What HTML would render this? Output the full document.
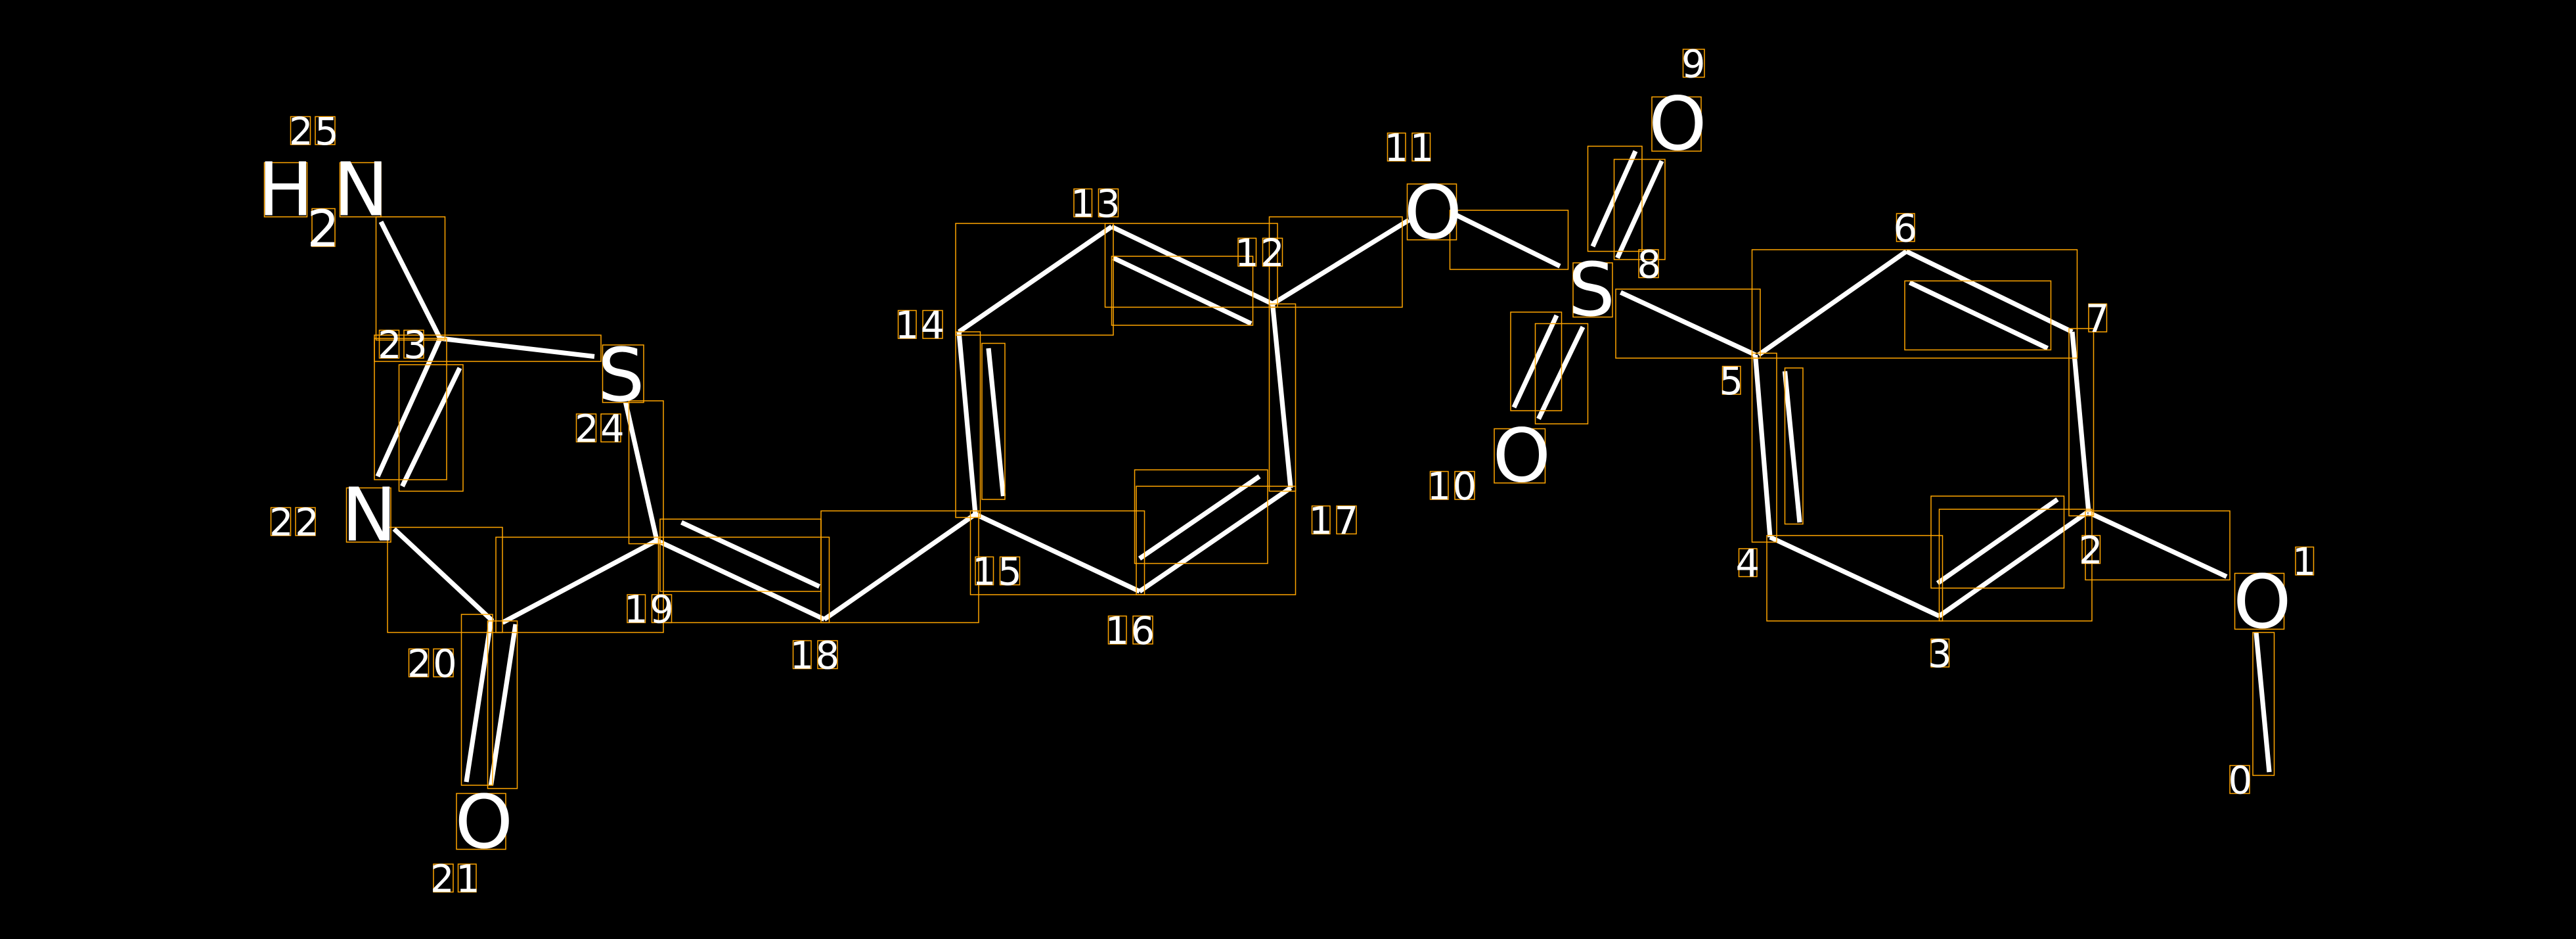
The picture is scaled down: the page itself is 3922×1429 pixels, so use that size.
<!DOCTYPE html>
<html><head><meta charset="utf-8"><style>
html,body{margin:0;padding:0;background:#000;}
svg{display:block;}
text{font-family:"DejaVu Sans","Liberation Sans",sans-serif;fill:#fff;}
.a{font-size:45px;}
.n{font-size:23px;}
.b line{stroke:#fff;stroke-width:2.9;stroke-linecap:butt;}
.r rect{fill:none;stroke:#FFA500;stroke-width:0.6;}
</style></head><body>
<svg width="3922" height="1429" viewBox="0 0 1568.8 571.6" xmlns="http://www.w3.org/2000/svg">
<rect x="0" y="0" width="1568.8" height="571.6" fill="#000"/>
<g class="b">
<line x1="1382" y1="470" x2="1374" y2="385"/>
<line x1="1356" y1="351" x2="1272" y2="312"/>
<line x1="1272" y1="312" x2="1262" y2="202"/>
<line x1="1262" y1="202" x2="1161" y2="153"/>
<line x1="1163" y1="172" x2="1247" y2="212"/>
<line x1="1161" y1="153" x2="1071" y2="216"/>
<line x1="1069" y1="216" x2="1078" y2="327"/>
<line x1="1087" y1="226" x2="1096" y2="318"/>
<line x1="1078" y1="327" x2="1181" y2="375"/>
<line x1="1181" y1="375" x2="1271" y2="312"/>
<line x1="1180" y1="355" x2="1253" y2="304"/>
<line x1="1069" y1="216" x2="987" y2="178"/>
<line x1="970" y1="150" x2="996" y2="92"/>
<line x1="985" y1="157" x2="1012" y2="98"/>
<line x1="922" y1="248" x2="948" y2="192"/>
<line x1="937" y1="255" x2="964" y2="199"/>
<line x1="950" y1="162" x2="885" y2="130"/>
<line x1="858" y1="134" x2="775" y2="185"/>
<line x1="775" y1="185" x2="677" y2="138"/>
<line x1="678" y1="157" x2="762" y2="197"/>
<line x1="677" y1="138" x2="584" y2="202"/>
<line x1="584" y1="202" x2="594" y2="313"/>
<line x1="602" y1="212" x2="611" y2="302"/>
<line x1="594" y1="313" x2="694" y2="360"/>
<line x1="694" y1="360" x2="786" y2="297"/>
<line x1="694" y1="340" x2="767" y2="290"/>
<line x1="786" y1="297" x2="775" y2="185"/>
<line x1="594" y1="313" x2="502" y2="377"/>
<line x1="502" y1="377" x2="400" y2="329"/>
<line x1="499" y1="357" x2="415" y2="318"/>
<line x1="400" y1="329" x2="381" y2="245"/>
<line x1="400" y1="329" x2="306" y2="379"/>
<line x1="299" y1="378" x2="284" y2="476"/>
<line x1="314" y1="380" x2="299" y2="478"/>
<line x1="300" y1="378" x2="240" y2="322"/>
<line x1="230" y1="290" x2="268" y2="206"/>
<line x1="245" y1="296" x2="280" y2="224"/>
<line x1="268" y1="206" x2="362" y2="217"/>
<line x1="268" y1="206" x2="232" y2="135"/>
</g>
<g class="r">
<rect x="1372" y="385" width="13" height="87"/>
<rect x="1270" y="311" width="88" height="42"/>
<rect x="1260" y="200" width="15" height="114"/>
<rect x="1067" y="152" width="198" height="66"/>
<rect x="1160" y="171" width="89" height="42"/>
<rect x="984" y="176" width="88" height="42"/>
<rect x="1067" y="215" width="15" height="115"/>
<rect x="1087" y="224" width="11" height="95"/>
<rect x="1076" y="326" width="107" height="52"/>
<rect x="1181" y="310" width="93" height="68"/>
<rect x="1176" y="302" width="81" height="56"/>
<rect x="967" y="89" width="33" height="64"/>
<rect x="983" y="97" width="31" height="61"/>
<rect x="920" y="190" width="31" height="60"/>
<rect x="935" y="197" width="32" height="61"/>
<rect x="883" y="128" width="72" height="36"/>
<rect x="773" y="132" width="81" height="55"/>
<rect x="582" y="136" width="96" height="68"/>
<rect x="673" y="136" width="105" height="51"/>
<rect x="677" y="156" width="86" height="42"/>
<rect x="773" y="185" width="16" height="114"/>
<rect x="582" y="202" width="15" height="113"/>
<rect x="598" y="209" width="14" height="95"/>
<rect x="591" y="311" width="106" height="51"/>
<rect x="691" y="286" width="81" height="57"/>
<rect x="692" y="296" width="97" height="66"/>
<rect x="500" y="311" width="96" height="68"/>
<rect x="402" y="316" width="98" height="44"/>
<rect x="401" y="327" width="104" height="52"/>
<rect x="383" y="244" width="21" height="87"/>
<rect x="302" y="327" width="102" height="58"/>
<rect x="236" y="321" width="70" height="64"/>
<rect x="281" y="374" width="19" height="104"/>
<rect x="297" y="378" width="18" height="102"/>
<rect x="228" y="206" width="44" height="86"/>
<rect x="243" y="222" width="39" height="77"/>
<rect x="228" y="204" width="138" height="16"/>
<rect x="229" y="132" width="42" height="75"/>
<!-- atom label boxes -->
<rect x="1361" y="349" width="30" height="34"/>
<rect x="1006" y="59" width="30" height="33"/>
<rect x="857" y="112" width="30" height="34"/>
<rect x="910" y="261" width="31" height="33"/>
<rect x="958" y="160" width="24" height="33"/>
<rect x="367" y="210" width="25" height="35"/>
<rect x="278" y="483" width="30" height="34"/>
<rect x="211" y="297" width="27" height="33"/>
<rect x="161" y="99" width="26" height="33"/>
<rect x="190" y="127" width="14" height="23"/>
<rect x="207" y="99" width="25" height="33"/>
<!-- index label boxes -->
<rect x="1358" y="466" width="12" height="17"/>
<rect x="1398" y="333" width="11" height="17"/>
<rect x="1268" y="326" width="11" height="17"/>
<rect x="1176" y="389" width="11" height="17"/>
<rect x="1059" y="334" width="11" height="17"/>
<rect x="1049" y="223" width="11" height="17"/>
<rect x="1155" y="130" width="11" height="17"/>
<rect x="1272" y="185" width="11" height="17"/>
<rect x="998" y="152" width="12" height="17"/>
<rect x="1025" y="30" width="13" height="17"/>
<rect x="871" y="287" width="11" height="17"/><rect x="886" y="287" width="12" height="17"/>
<rect x="845" y="81" width="11" height="17"/><rect x="860" y="81" width="11" height="17"/>
<rect x="754" y="145" width="11" height="17"/><rect x="769" y="145" width="12" height="17"/>
<rect x="654" y="115" width="11" height="17"/><rect x="669" y="115" width="12" height="17"/>
<rect x="547" y="189" width="11" height="17"/><rect x="562" y="189" width="12" height="17"/>
<rect x="594" y="339" width="11" height="17"/><rect x="609" y="339" width="12" height="17"/>
<rect x="675" y="375" width="11" height="17"/><rect x="690" y="375" width="12" height="17"/>
<rect x="799" y="308" width="11" height="17"/><rect x="814" y="308" width="12" height="17"/>
<rect x="483" y="390" width="11" height="17"/><rect x="498" y="390" width="12" height="17"/>
<rect x="382" y="362" width="11" height="17"/><rect x="397" y="362" width="12" height="17"/>
<rect x="249" y="395" width="12" height="17"/><rect x="264" y="395" width="12" height="17"/>
<rect x="264" y="526" width="12" height="17"/><rect x="279" y="526" width="11" height="17"/>
<rect x="165" y="309" width="12" height="17"/><rect x="180" y="309" width="12" height="17"/>
<rect x="231" y="201" width="12" height="17"/><rect x="246" y="201" width="12" height="17"/>
<rect x="351" y="252" width="12" height="17"/><rect x="366" y="252" width="12" height="17"/>
<rect x="177" y="71" width="12" height="17"/><rect x="192" y="71" width="12" height="17"/>
</g>
<g class="a">
<text x="1360" y="382">O</text>
<text x="1004" y="91">O</text>
<text x="855" y="145">O</text>
<text x="909" y="293">O</text>
<text x="955" y="192">S</text>
<text x="364" y="244">S</text>
<text x="277" y="516">O</text>
<text x="208" y="329">N</text>
<text x="157" y="131">H</text>
<text x="203" y="131">N</text>
</g>
<text x="187" y="150" style="font-size:31px">2</text>
<g class="n">
<text x="1357" y="483">0</text>
<text x="1396" y="350">1</text>
<text x="1266" y="343">2</text>
<text x="1174" y="406">3</text>
<text x="1057" y="351">4</text>
<text x="1047" y="240">5</text>
<text x="1153" y="147">6</text>
<text x="1270" y="202">7</text>
<text x="997" y="169">8</text>
<text x="1024" y="47">9</text>
<text x="869" y="304" letter-spacing="1">10</text>
<text x="843" y="98" letter-spacing="1">11</text>
<text x="752" y="162" letter-spacing="1">12</text>
<text x="652" y="132" letter-spacing="1">13</text>
<text x="545" y="206" letter-spacing="1">14</text>
<text x="592" y="356" letter-spacing="1">15</text>
<text x="673" y="392" letter-spacing="1">16</text>
<text x="797" y="325" letter-spacing="1">17</text>
<text x="481" y="407" letter-spacing="1">18</text>
<text x="380" y="379" letter-spacing="1">19</text>
<text x="248" y="412" letter-spacing="1">20</text>
<text x="262" y="543" letter-spacing="1">21</text>
<text x="164" y="326" letter-spacing="1">22</text>
<text x="230" y="218" letter-spacing="1">23</text>
<text x="350" y="269" letter-spacing="1">24</text>
<text x="176" y="88" letter-spacing="1">25</text>
</g>
</svg>
</body></html>
